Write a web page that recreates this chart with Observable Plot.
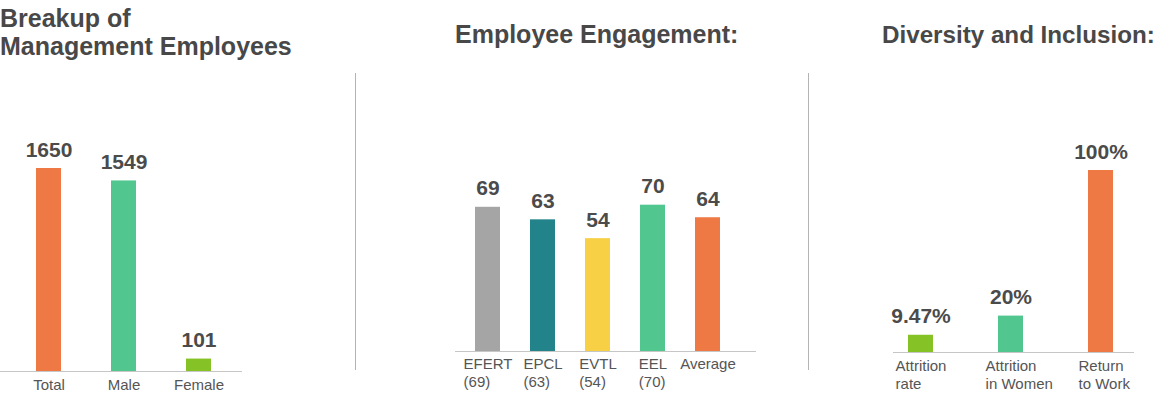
<!DOCTYPE html>
<html>
<head>
<meta charset="utf-8">
<script src="https://cdn.jsdelivr.net/npm/d3@7"></script>
<script src="https://cdn.jsdelivr.net/npm/@observablehq/plot@0.6"></script>
<style>
  html, body { margin: 0; padding: 0; background: #fff; }
  body { width: 1161px; height: 398px; overflow: hidden; position: relative; font-family: "Liberation Sans", Arial, sans-serif; }
  .title { position: absolute; font-weight: bold; font-size: 25px; line-height: 23px; color: #484848; white-space: nowrap; }
  .sep { position: absolute; width: 0; border-left: 1.5px solid #b4b4b4; }
  .panel { position: absolute; top: 0; }
</style>
</head>
<body>
<div class="title" style="left:0px; top:7px;">Breakup of</div>
<div class="title" style="left:0px; top:34.5px;">Management Employees</div>
<div class="title" style="left:455px; top:22.5px;">Employee Engagement:</div>
<div class="title" style="left:882px; top:22.5px; font-size:24.2px;">Diversity and Inclusion:</div>
<div class="sep" style="left:355px; top:73px; height:297px;"></div>
<div class="sep" style="left:808px; top:73px; height:297px;"></div>
<div id="p1" class="panel" style="left:0px;"></div>
<div id="p2" class="panel" style="left:440px;"></div>
<div id="p3" class="panel" style="left:880px;"></div>
<script>
// ---- Data ----
const mgmtCategories = ["Total", "Male", "Female"];
const mgmtValues = [1650, 1549, 101];
const mgmtLabels = ["1650", "1549", "101"];

const engCategories = ["EFERT\n(69)", "EPCL\n(63)", "EVTL\n(54)", "EEL\n(70)", "Average"];
const engValues = [69, 63, 54, 70, 64];
const engLabels = ["69", "63", "54", "70", "64"];

const divCategories = ["Attrition\nrate", "Attrition\nin Women", "Return\nto Work"];
const divValues = [9.47, 20, 100];
const divLabels = ["9.47%", "20%", "100%"];

// ---- Styles ----
const mgmtColors = ["#EE7944", "#51C68E", "#84C226"];
const engColors = ["#A5A5A5", "#22838A", "#F8D046", "#51C68E", "#EE7944"];
const divColors = ["#84C226", "#51C68E", "#EE7944"];

const FONT = "Liberation Sans, Arial, sans-serif";

function panel({cats, vals, labels, colors, width, height, marginLeft, marginRight, marginTop, marginBottom, xRange, paddingInner, paddingOuter, yDomain, tickPadding}) {
  const data = cats.map((c, i) => ({cat: c, value: vals[i], label: labels[i]}));
  return Plot.plot({
    width, height, marginLeft, marginRight, marginTop, marginBottom,
    style: {fontFamily: FONT, color: "#555", background: "transparent", overflow: "visible"},
    x: {domain: cats, range: xRange, paddingInner, paddingOuter, label: null},
    y: {domain: yDomain, axis: null},
    color: {domain: cats, range: colors},
    marks: [
      Plot.barY(data, {x: "cat", y: "value", fill: "cat"}),
      Plot.ruleY([0], {stroke: "#c6c6c6", strokeWidth: 1}),
      Plot.text(data, {x: "cat", y: "value", text: "label", dy: -12, lineAnchor: "bottom", fontSize: 21, fontWeight: "bold", fill: "#4b4b4b"}),
      Plot.axisX({tickSize: 0, tickPadding, fontSize: 15, lineHeight: 1.2, label: null, fill: "#555", fontFamily: FONT})
    ]
  });
}

const p1 = panel({
  cats: mgmtCategories, vals: mgmtValues, labels: mgmtLabels, colors: mgmtColors,
  width: 250, height: 398, marginLeft: 0, marginRight: 8, marginTop: 168, marginBottom: 27,
  xRange: [20.5, 225.5], paddingInner: 2/3, paddingOuter: 0.2, yDomain: [0, 1650], tickPadding: 6
});
const p2 = panel({
  cats: engCategories, vals: engValues, labels: engLabels, colors: engColors,
  width: 330, height: 398, marginLeft: 15, marginRight: 14, marginTop: 142, marginBottom: 47,
  xRange: [6.2, 308.7], paddingInner: 0.55, paddingOuter: 0.5, yDomain: [0, 100], tickPadding: 5
});
const p3 = panel({
  cats: divCategories, vals: divValues, labels: divLabels, colors: divColors,
  width: 281, height: 398, marginLeft: 13, marginRight: 27, marginTop: 170, marginBottom: 46,
  xRange: [8.8, 252.2], paddingInner: 0.725, paddingOuter: 0.2, yDomain: [0, 100], tickPadding: 6
});

document.getElementById("p1").appendChild(p1);
document.getElementById("p2").appendChild(p2);
document.getElementById("p3").appendChild(p3);

// Multi-line tick labels: left-align lines within a block centred on the first line.
for (const svg of [p1, p2, p3]) {
  svg.querySelectorAll('g[aria-label="x-axis tick label"] text').forEach(t => {
    const spans = t.querySelectorAll("tspan");
    if (spans.length > 1) {
      const w = spans[0].getComputedTextLength();
      t.setAttribute("text-anchor", "start");
      spans.forEach(s => s.setAttribute("x", -w / 2));
    }
  });
}
</script>
</body>
</html>
